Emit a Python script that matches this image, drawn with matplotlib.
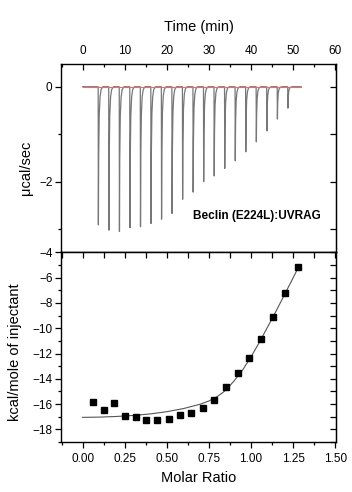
import numpy as np
import matplotlib
matplotlib.use('Agg')
import matplotlib.pyplot as plt
from matplotlib.ticker import MultipleLocator

plt.rcParams['font.family'] = ['Liberation Sans', 'DejaVu Sans']

# Raw ITC thermogram: injection times (min) and peak heights (ucal/sec)
inj_times = [3.7, 6.2, 8.7, 11.2, 13.7, 16.2, 18.7, 21.2, 23.7, 26.2,
             28.7, 31.2, 33.7, 36.2, 38.7, 41.2, 43.7, 46.2, 48.7]
peak_heights = [-2.91, -3.02, -3.05, -2.97, -2.95, -2.88, -2.79, -2.67, -2.37,
                -2.22, -2.00, -1.88, -1.72, -1.56, -1.37, -1.16, -0.93,
                -0.68, -0.45]
run_start, run_end = 0.0, 51.9

# Integrated heats
molar_ratio = [0.062, 0.124, 0.186, 0.251, 0.316, 0.379, 0.444, 0.511, 0.578,
               0.646, 0.713, 0.782, 0.851, 0.920, 0.988, 1.061, 1.132, 1.203,
               1.277]
heat = [-15.82, -16.50, -15.90, -16.95, -17.00, -17.27, -17.27, -17.16,
        -16.87, -16.71, -16.34, -15.66, -14.68, -13.57, -12.36, -10.86,
        -9.12, -7.20, -5.14]

# Fitted curve
fit_x = [0.00, 0.10, 0.20, 0.30, 0.40, 0.50, 0.60, 0.70, 0.75, 0.80, 0.85,
         0.90, 0.95, 1.00, 1.05, 1.10, 1.15, 1.20, 1.25, 1.28]
fit_y = [-17.05, -17.03, -16.98, -16.90, -16.78, -16.60, -16.35, -16.00,
         -15.75, -15.40, -14.90, -14.15, -13.30, -12.25, -11.10, -9.85,
         -8.60, -7.30, -6.00, -5.20]

LABEL = 'Beclin (E224L):UVRAG'

# shape of a single injection spike (relative time, fraction of height)
PEAK_DT = [0.0, 0.05, 0.12, 0.25, 0.45, 0.7, 1.1]
PEAK_FR = [0.0, 1.0, 0.5, 0.2, 0.07, 0.02, 0.0]


def build_trace(times, heights):
    t = [run_start]
    y = [0.0]
    for t0, h in zip(times, heights):
        for dt, fr in zip(PEAK_DT, PEAK_FR):
            t.append(t0 + dt)
            y.append(h * fr)
    t.append(run_end)
    y.append(0.0)
    return np.array(t), np.array(y)


def style_ticks(ax):
    ax.tick_params(which='both', width=0.9, labelsize=8.5, color='black')
    ax.tick_params(which='major', length=4)
    ax.tick_params(which='minor', length=2.5)
    for s in ax.spines.values():
        s.set_linewidth(1.0)


fig = plt.figure(figsize=(3.52, 4.92), dpi=100)
ax1 = fig.add_axes([0.173, 0.487, 0.782, 0.383])
ax2 = fig.add_axes([0.173, 0.1016, 0.782, 0.3854])

# ---- thermogram
t, y = build_trace(inj_times, peak_heights)
ax1.plot(t, y, color='#777777', linewidth=0.9)
ax1.plot([run_start, run_end], [0, 0], color='#e07070', linewidth=0.8)
ax1.set_xlim(-5.15, 60.2)
ax1.set_ylim(-3.49, 0.48)
ax1.xaxis.set_major_locator(MultipleLocator(10))
ax1.xaxis.set_minor_locator(MultipleLocator(5))
ax1.yaxis.set_major_locator(MultipleLocator(2))
ax1.yaxis.set_minor_locator(MultipleLocator(1))
ax1.xaxis.tick_top()
style_ticks(ax1)
ax1.tick_params(axis='x', which='both', direction='in', top=True,
                bottom=False, labeltop=True, labelbottom=False, pad=5)
ax1.tick_params(axis='y', which='both', direction='out', left=True,
                right=False, pad=2)
ax1r = ax1.secondary_yaxis('right')
ax1r.yaxis.set_major_locator(MultipleLocator(1))
ax1r.tick_params(direction='in', length=4, width=0.9, labelright=False)
ax1.set_ylabel('μcal/sec', fontsize=10.5)
ax1.yaxis.set_label_coords(-0.10, 0.45)
ax1.text(0.945, 0.195, LABEL, transform=ax1.transAxes, ha='right',
         va='center', fontsize=8.5, fontweight='bold')

# ---- integrated heats
ax2.plot(fit_x, fit_y, color='#555555', linewidth=0.8)
ax2.plot(molar_ratio, heat, 's', color='black', markersize=5)
ax2.set_xlim(-0.129, 1.505)
ax2.set_ylim(-19, -4)
ax2.xaxis.set_major_locator(MultipleLocator(0.25))
ax2.xaxis.set_minor_locator(MultipleLocator(0.125))
ax2.yaxis.set_major_locator(MultipleLocator(2))
ax2.yaxis.set_minor_locator(MultipleLocator(1))
ax2.xaxis.set_major_formatter(matplotlib.ticker.FormatStrFormatter('%.2f'))
style_ticks(ax2)
ax2.tick_params(axis='x', which='both', direction='out', bottom=True,
                top=False, pad=4)
ax2.tick_params(axis='y', which='both', direction='out', left=True,
                right=False, pad=2)
ax2t = ax2.secondary_xaxis('top')
ax2t.xaxis.set_major_locator(MultipleLocator(0.125))
ax2t.tick_params(direction='in', length=4, width=0.9, labeltop=False)
ax2r = ax2.secondary_yaxis('right')
ax2r.yaxis.set_major_locator(MultipleLocator(1))
ax2r.tick_params(direction='in', length=4, width=0.9, labelright=False)
ax2.set_ylabel('kcal/mole of injectant', fontsize=10.5)
ax2.yaxis.set_label_coords(-0.14, 0.472)

fig.text(199 / 352, 1 - 27 / 492, 'Time (min)', ha='center', va='center',
         fontsize=10.5)
fig.text(199 / 352, 1 - 478 / 492, 'Molar Ratio', ha='center', va='center',
         fontsize=10.5)

fig.savefig('out.png', dpi=100)
